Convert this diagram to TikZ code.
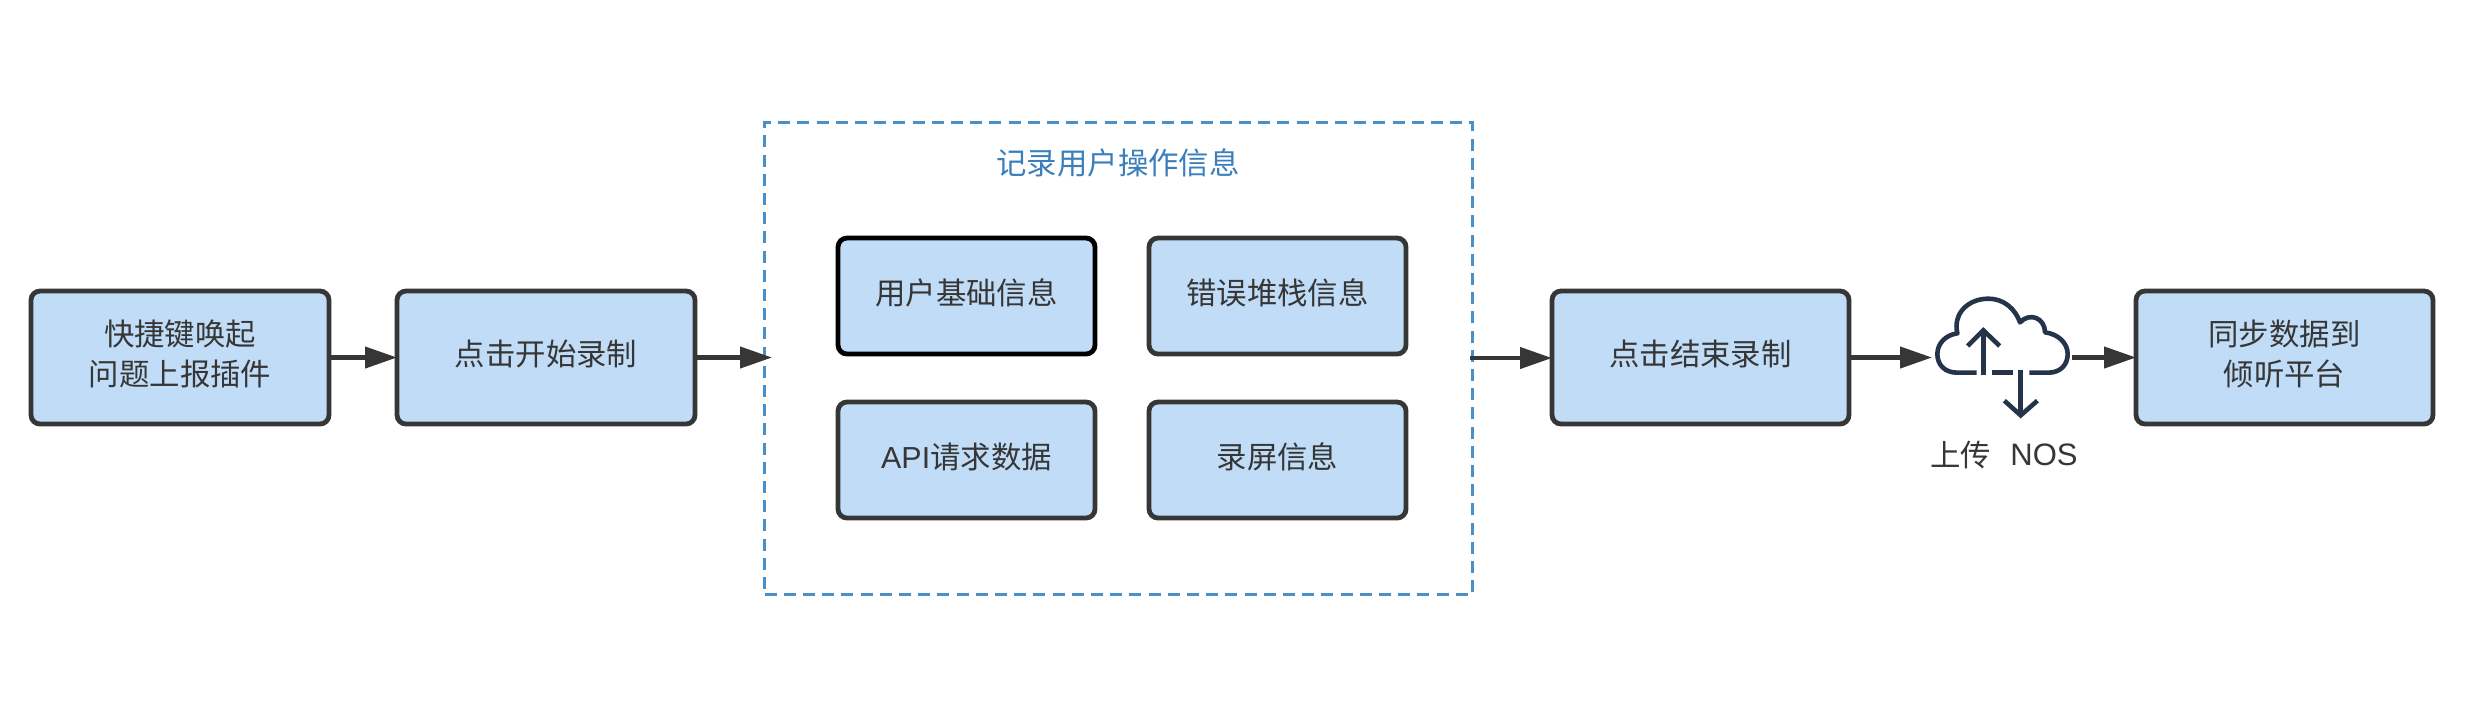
\documentclass[tikz,border=0pt]{standalone}
\usepackage{fontspec}
\setmainfont{Noto Sans CJK SC}
\newfontfamily\latinf{Liberation Sans}
\usetikzlibrary{arrows.meta}
\definecolor{boxfill}{HTML}{C0DCF6}
\definecolor{ink}{HTML}{363636}
\definecolor{groupblue}{HTML}{4A90C8}
\definecolor{titleblue}{HTML}{3A7FBB}
\definecolor{cloudink}{HTML}{25344A}
\tikzset{
  x=0.5pt,y=-0.5pt,
  flowbox/.style={draw=ink,fill=boxfill,line width=2.4pt,rounded corners=4.5pt,inner sep=0pt,outer sep=0pt,
    text=ink,font=\fontsize{15.2}{20}\selectfont,align=center,anchor=north west},
  flow/.style={draw=ink,line width=2.1pt,-{Triangle[length=16pt,width=10.5pt]},shorten >=0pt},
  cloudline/.style={draw=cloudink,line width=2.3pt},
  plain/.style={text=ink,font=\fontsize{15.2}{19.5}\selectfont,inner sep=0pt},
}
\newcommand{\boxat}[7]{\node[flowbox,minimum width=#4*0.5pt,minimum height=#5*0.5pt,#6] (#1) at (#2,#3) {\raisebox{0.4pt}{\begin{tabular}{@{}c@{}}#7\end{tabular}}};}
\begin{document}
\begin{tikzpicture}
\useasboundingbox (0,0) rectangle (2476,720);
\node[draw=groupblue,line width=1.3pt,dash pattern=on 6pt off 3.6pt,minimum width=354pt,minimum height=236pt,inner sep=0pt,outer sep=0pt,anchor=north west] (group) at (764.5,122.5) {};
\node[text=titleblue,font=\fontsize{15.2}{19}\selectfont,inner sep=0pt] (title) at (1118,163) {记录用户操作信息};
\boxat{a}{31}{291}{298}{133}{}{快捷键唤起\\问题上报插件}
\boxat{b}{397}{291}{298}{133}{}{点击开始录制}
\boxat{c}{838}{238}{257}{116}{draw=black}{用户基础信息}
\boxat{d}{1149}{238}{257}{116}{}{错误堆栈信息}
\boxat{e}{838}{402}{257}{116}{}{{\latinf API}请求数据}
\boxat{f}{1149}{402}{257}{116}{}{录屏信息}
\boxat{g}{1552}{291}{297}{133}{}{点击结束录制}
\boxat{h}{2136}{291}{297}{133}{}{同步数据到\\倾听平台}
% cloud icon
\node[minimum width=70pt,minimum height=40pt,inner sep=0pt,outer sep=0pt] (cloud) at (2002,357.5) {};
\begin{scope}[shift={(1880,270)},x=0.16667pt,y=-0.16667pt]
\draw[cloudline,line join=round] (290,308) -- (232,308)
  .. controls (195,308) and (172,285) .. (172,252)
  .. controls (172,222) and (195,195) .. (232,190)
  .. controls (218,130) and (265,86) .. (325,86)
  .. controls (370,86) and (405,115) .. (420,157)
  .. controls (450,125) and (495,145) .. (495,187)
  .. controls (535,192) and (563,220) .. (563,252)
  .. controls (563,285) and (540,308) .. (505,308) -- (448,308);
\draw[cloudline] (335,308) -- (400,308);
\draw[cloudline] (310,314) -- (310,182);
\draw[cloudline] (263,228) -- (310,181) -- (359,228);
\draw[cloudline] (422,300) -- (422,434);
\draw[cloudline] (373,392) -- (422,436) -- (472,392);
\end{scope}
\node[plain,anchor=west] (uplabel) at (1930,455) {上传};
\node[plain,anchor=west,font=\fontsize{15.5}{19}\selectfont\latinf] (noslabel) at (2010,455) {NOS};
% connectors
\coordinate (gin) at (772,357.5);
\coordinate (gout) at (1470,358);
\draw[flow] (a.east) -- (b.west);
\draw[flow] (b.east) -- (gin);
\draw[flow] (gout) -- (g.west |- gout);
\draw[flow] (g.east) -- (cloud.west);
\draw[flow] (cloud.east) -- (h.west);
\end{tikzpicture}
\end{document}
